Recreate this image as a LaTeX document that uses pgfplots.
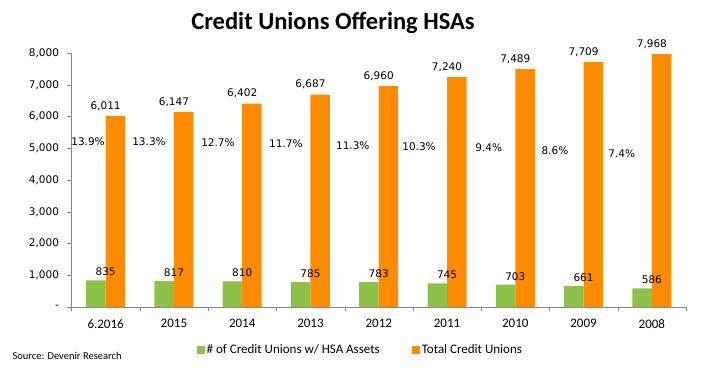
\documentclass[border=0pt]{standalone}
\usepackage{pgfplots}
\pgfplotsset{compat=1.18}
\usepackage{fontspec}
\setmainfont{Carlito}
\newfontfamily\dvfont{DejaVu Sans}
\definecolor{cugreen}{RGB}{141,193,74}
\definecolor{cuorange}{RGB}{255,140,0}
\definecolor{axgray}{RGB}{134,134,134}
\begin{document}
\begin{tikzpicture}
\useasboundingbox (0,0) rectangle (702pt,373pt);
\node[font=\fontsize{24.5}{28}\selectfont\bfseries] at (333pt,350pt) {Credit Unions Offering HSAs};
\node[anchor=west,font=\fontsize{10.5}{12}\selectfont] at (9pt,17pt) {Source: Devenir Research};
\begin{axis}[
  at={(71.5pt,66pt)}, anchor=south west,
  scale only axis, width=614.5pt, height=254pt,
  xmin=-0.5, xmax=8.5, ymin=0, ymax=8000,
  clip=false,
  axis x line=bottom, axis y line=left,
  axis line style={-, draw=axgray},
  tick align=outside, major tick length=4pt,
  tick style={draw=axgray},
  xtick={-0.5,0.5,...,8.5}, xticklabels={},
  extra x ticks={0,1,2,3,4,5,6,7,8},
  extra x tick labels={6.2016,2015,2014,2013,2012,2011,2010,2009,2008},
  extra x tick style={major tick length=0pt, tick style={draw=none}},
  x tick label style={yshift=-9pt, font=\fontsize{13}{15}\selectfont},
  ytick={0,1000,...,8000},
  yticklabels={-,{1,000},{2,000},{3,000},{4,000},{5,000},{6,000},{7,000},{8,000}},
  y tick label style={xshift=-5pt, font=\dvfont\fontsize{10.5}{12}\selectfont},
  /pgf/number format/assume math mode=true,
  /pgf/number format/1000 sep={,},
  legend columns=2,
  legend style={draw=none, at={(0.47,-0.169)}, anchor=center,
    font=\fontsize{13}{15}\selectfont,
    /tikz/every even column/.append style={column sep=30pt}},
  legend image code/.code={\fill[#1] (0pt,-4pt) rectangle (8pt,4pt);},
]
\addplot[ybar, bar width=19.5pt, bar shift=-9.75pt, fill=cugreen, draw=none,
  nodes near coords, nodes near coords style={font=\dvfont\fontsize{10.5}{12}\selectfont, yshift=1pt}]
  coordinates {(0,835) (1,817) (2,810) (3,785) (4,783) (5,745) (6,703) (7,661) (8,586)};
\addlegendentry{\# of Credit Unions w/ HSA Assets}
\addplot[ybar, bar width=19.5pt, bar shift=9.75pt, fill=cuorange, draw=none,
  nodes near coords, nodes near coords style={font=\dvfont\fontsize{10.5}{12}\selectfont, yshift=2pt}]
  coordinates {(0,6011) (1,6147) (2,6402) (3,6687) (4,6960) (5,7240) (6,7489) (7,7709) (8,7968)};
\addlegendentry{Total Credit Unions}
\addplot[forget plot, draw=none, mark=none, nodes near coords, point meta=explicit symbolic,
  nodes near coords style={anchor=center, font=\dvfont\fontsize{10.5}{12}\selectfont}]
  table[meta=label] {
x y label
-0.258 5197 13.9\%
0.635 5197 13.3\%
1.645 5165 12.7\%
2.64 5134 11.7\%
3.62 5071 11.3\%
4.59 5039 10.3\%
5.61 5008 9.4\%
6.58 4913 8.6\%
7.56 4819 7.4\%
};
\end{axis}
\end{tikzpicture}
\end{document}
